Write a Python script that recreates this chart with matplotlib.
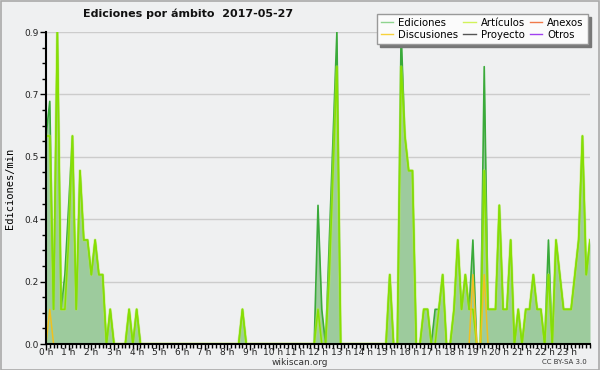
### Ediciones por ámbito - wikiscan style area chart
import matplotlib
matplotlib.use('Agg')
import matplotlib.pyplot as plt
from matplotlib.lines import Line2D
from matplotlib.patches import Rectangle

### edits/min in 10-minute steps, one row per hour (:00 :10 :20 :30 :40 :50)
ediciones = [
    0.6, 0.7, 0.1, 0.9, 0.1, 0.2,   # 0 h
    0.4, 0.6, 0.1, 0.5, 0.3, 0.3,   # 1 h
    0.2, 0.3, 0.2, 0.2, 0.0, 0.1,   # 2 h
    0.0, 0.0, 0.0, 0.0, 0.1, 0.0,   # 3 h
    0.1, 0.0, 0.0, 0.0, 0.0, 0.0,   # 4 h
    0.0, 0.0, 0.0, 0.0, 0.0, 0.0,   # 5 h
    0.0, 0.0, 0.0, 0.0, 0.0, 0.0,   # 6 h
    0.0, 0.0, 0.0, 0.0, 0.0, 0.0,   # 7 h
    0.0, 0.0, 0.0, 0.0, 0.1, 0.0,   # 8 h
    0.0, 0.0, 0.0, 0.0, 0.0, 0.0,   # 9 h
    0.0, 0.0, 0.0, 0.0, 0.0, 0.0,   # 10 h
    0.0, 0.0, 0.0, 0.0, 0.0, 0.0,   # 11 h
    0.4, 0.1, 0.0, 0.3, 0.6, 0.9,   # 12 h
    0.0, 0.0, 0.0, 0.0, 0.0, 0.0,   # 13 h
    0.0, 0.0, 0.0, 0.0, 0.0, 0.0,   # 14 h
    0.0, 0.2, 0.0, 0.0, 0.9, 0.6,   # 15 h
    0.5, 0.5, 0.0, 0.0, 0.1, 0.1,   # 16 h
    0.0, 0.1, 0.1, 0.2, 0.0, 0.0,   # 17 h
    0.1, 0.3, 0.1, 0.2, 0.1, 0.3,   # 18 h
    0.0, 0.0, 0.8, 0.1, 0.1, 0.1,   # 19 h
    0.4, 0.1, 0.1, 0.3, 0.0, 0.1,   # 20 h
    0.0, 0.1, 0.1, 0.2, 0.1, 0.1,   # 21 h
    0.0, 0.3, 0.0, 0.3, 0.2, 0.1,   # 22 h
    0.1, 0.1, 0.2, 0.3, 0.6, 0.2,   # 23 h
    0.3,
]

articulos = [
    0.6, 0.6, 0.1, 0.9, 0.1, 0.1,   # 0 h
    0.3, 0.6, 0.1, 0.5, 0.3, 0.3,   # 1 h
    0.2, 0.3, 0.2, 0.2, 0.0, 0.1,   # 2 h
    0.0, 0.0, 0.0, 0.0, 0.1, 0.0,   # 3 h
    0.1, 0.0, 0.0, 0.0, 0.0, 0.0,   # 4 h
    0.0, 0.0, 0.0, 0.0, 0.0, 0.0,   # 5 h
    0.0, 0.0, 0.0, 0.0, 0.0, 0.0,   # 6 h
    0.0, 0.0, 0.0, 0.0, 0.0, 0.0,   # 7 h
    0.0, 0.0, 0.0, 0.0, 0.1, 0.0,   # 8 h
    0.0, 0.0, 0.0, 0.0, 0.0, 0.0,   # 9 h
    0.0, 0.0, 0.0, 0.0, 0.0, 0.0,   # 10 h
    0.0, 0.0, 0.0, 0.0, 0.0, 0.0,   # 11 h
    0.1, 0.0, 0.0, 0.2, 0.5, 0.8,   # 12 h
    0.0, 0.0, 0.0, 0.0, 0.0, 0.0,   # 13 h
    0.0, 0.0, 0.0, 0.0, 0.0, 0.0,   # 14 h
    0.0, 0.2, 0.0, 0.0, 0.8, 0.6,   # 15 h
    0.5, 0.5, 0.0, 0.0, 0.1, 0.1,   # 16 h
    0.0, 0.0, 0.1, 0.2, 0.0, 0.0,   # 17 h
    0.1, 0.3, 0.1, 0.2, 0.1, 0.1,   # 18 h
    0.0, 0.0, 0.5, 0.1, 0.1, 0.1,   # 19 h
    0.4, 0.1, 0.1, 0.3, 0.0, 0.1,   # 20 h
    0.0, 0.1, 0.1, 0.2, 0.1, 0.1,   # 21 h
    0.0, 0.2, 0.0, 0.3, 0.2, 0.1,   # 22 h
    0.1, 0.1, 0.2, 0.3, 0.6, 0.2,   # 23 h
    0.3,
]

discusiones = [0.0] * 145
discusiones[1] = 0.1      # 0:10
discusiones[113] = 0.2    # 18:50
discusiones[116] = 0.2    # 19:20

horas = [i / 6 for i in range(145)]
hour_labels = [f'{h} h' for h in range(24)]

ytick_vals = [0.0, 0.18, 0.36, 0.54, 0.72, 0.9]

legend_names = ['Ediciones', 'Discusiones', 'Artículos', 'Proyecto', 'Anexos', 'Otros']
legend_colors = ['#8fd48f', '#f7d23c', '#d2f25a', '#555555', '#f07a4a', '#a040f0']

bg = '#eff0f1'

fig = plt.figure(figsize=(6, 3.7), dpi=100, facecolor=bg)
ax = fig.add_axes([46/600, 1 - 344/370, 544/600, 312/370], facecolor=bg)

### area + lines
ax.fill_between(horas, ediciones, color='#9dcb9d', lw=0, zorder=1)
ax.plot(horas, ediciones, color='#3aaa3a', lw=1.2, zorder=1.6)
ax.plot(horas, articulos, color='#b8f040', lw=2.2, alpha=0.5, zorder=1.7)
ax.plot(horas, articulos, color='#88e000', lw=1.1, zorder=1.8)
ax.plot(horas, discusiones, color='#f0c020', lw=1.1, zorder=1.9)

ax.set_xlim(0, 24)
ax.set_ylim(0, 0.9)

ax.set_xticks(range(24))
ax.set_xticklabels(hour_labels)
ax.set_xticks([i / 6 for i in range(145)], minor=True)
ax.set_yticks(ytick_vals)
ax.set_yticklabels([f'{v:.1f}' for v in ytick_vals])
ax.set_yticks([i * 0.045 for i in range(21)], minor=True)

ax.tick_params(axis='both', which='major', length=4, width=1, labelsize=6.5,
               color='black', labelcolor='#222222')
ax.tick_params(axis='x', which='major', pad=-1)
ax.tick_params(axis='y', which='major', pad=1)
ax.tick_params(axis='both', which='minor', length=3, width=1, color='black')

ax.grid(axis='y', color='#cccccc', lw=1)
ax.set_axisbelow(True)
for s in ['top', 'right']:
    ax.spines[s].set_visible(False)
for s in ['left', 'bottom']:
    ax.spines[s].set_linewidth(1.5)
    ax.spines[s].set_zorder(3)

ax.set_ylabel('Ediciones/min', fontsize=7.5, family='DejaVu Sans Mono', labelpad=7)

fig.text(0.313, 0.962, 'Ediciones por ámbito  2017-05-27', fontsize=8,
         fontweight='bold', ha='center', va='center', color='#111111')
fig.text(0.5, 0.021, 'wikiscan.org', fontsize=6.5, ha='center', va='center', color='#333333')
fig.text(0.978, 0.021, 'CC BY-SA 3.0', fontsize=5, ha='right', va='center', color='#333333')

### legend
handles = [Line2D([], [], color=c, lw=1) for c in legend_colors]
leg = fig.legend(handles, legend_names, loc='upper right', ncol=3,
                 bbox_to_anchor=(0.988, 0.976), bbox_transform=fig.transFigure,
                 fontsize=7.3, handlelength=1.2, handletextpad=0.5, columnspacing=0.5,
                 labelspacing=0.2, borderpad=0.4, fancybox=False, framealpha=1,
                 facecolor='#fbfbfb', edgecolor='#999999',
                 shadow={'color': '#777777', 'alpha': 1})
leg.get_frame().set_linewidth(1)

### figure border
fig.patches.append(Rectangle((0.001, 0.001), 0.997, 0.997, transform=fig.transFigure,
                             fill=False, edgecolor='#aaaaaa', lw=1.2))

fig.savefig('out.png', dpi=100, facecolor=bg)
